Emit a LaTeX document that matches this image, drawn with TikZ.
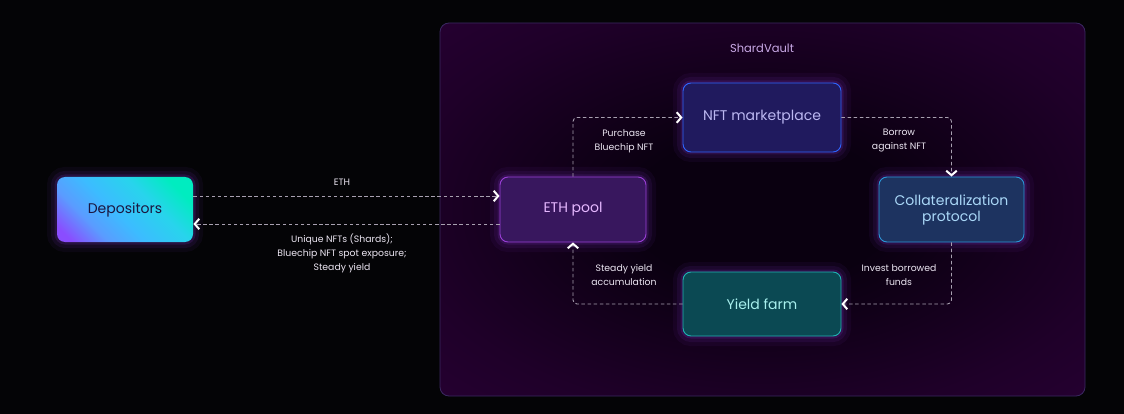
\documentclass[tikz,border=0pt]{standalone}
\usepackage{fontspec}
\setmainfont{Poppins}
\usetikzlibrary{arrows.meta}
\definecolor{pagebg}{HTML}{040406}
\definecolor{vin}{HTML}{0a0010}
\definecolor{vmid}{HTML}{1f0029}
\definecolor{vout}{HTML}{2e003c}
\definecolor{vborder}{HTML}{3a2860}
\definecolor{titlec}{HTML}{c9a9e6}
\definecolor{glowc}{HTML}{a045ff}
\definecolor{dashc}{HTML}{a8a0b0}
\definecolor{lblc}{HTML}{ece6f2}
\definecolor{depT}{HTML}{00ecc0}
\definecolor{depT2}{HTML}{28d4ec}
\definecolor{depM}{HTML}{3cbcff}
\definecolor{depB2}{HTML}{5a9cff}
\definecolor{depB}{HTML}{8a4dff}
\definecolor{deptext}{HTML}{1b1640}
\definecolor{ethfill}{HTML}{38175e}
\definecolor{ethdraw}{HTML}{9a3fd6}
\definecolor{ethtext}{HTML}{e6b8ff}
\definecolor{nftfill}{HTML}{201a5e}
\definecolor{nftdraw}{HTML}{2f66ff}
\definecolor{nfttext}{HTML}{bcb8f2}
\definecolor{colfill}{HTML}{1d3360}
\definecolor{coldraw}{HTML}{2a98d8}
\definecolor{coltext}{HTML}{aad8f8}
\definecolor{yffill}{HTML}{0b4953}
\definecolor{yfdraw}{HTML}{1fb3b3}
\definecolor{yftext}{HTML}{a8f0ee}
\pgfdeclareradialshading{vaultshade}{\pgfpoint{0bp}{0bp}}{color(0bp)=(vin); color(10bp)=(vin); color(28bp)=(vmid); color(48bp)=(vout); color(72bp)=(vout)}
\pgfdeclareverticalshading{depshade}{100bp}{color(0bp)=(depB); color(20bp)=(depB); color(33bp)=(depB2); color(46bp)=(depM); color(62bp)=(depT2); color(76bp)=(depT); color(100bp)=(depT)}
\tikzset{
  box/.style={rectangle, rounded corners=8pt, minimum width=146pt, minimum height=65pt,
    inner sep=2pt, align=center, line width=0.9pt, font=\fontsize{14}{16}\selectfont,
    preaction={draw=glowc, draw opacity=0.05, line width=20pt},
    preaction={draw=glowc, draw opacity=0.08, line width=12pt},
    preaction={draw=glowc, draw opacity=0.13, line width=5pt}},
  flow/.style={draw=dashc, line width=0.9pt, dash pattern=on 3.5pt off 2.6pt, rounded corners=4pt,
    -{Straight Barb[length=4.5pt,width=10.5pt,line width=2pt,color=white]}},
  lbl/.style={font=\fontsize{9.3}{14}\selectfont, text=lblc, align=center, inner sep=0pt},
}
\begin{document}
\begin{tikzpicture}[x=1pt,y=-1pt]
\fill[pagebg] (0,0) rectangle (1124,414);
\useasboundingbox (0,0) rectangle (1124,414);
% container
\path[shading=vaultshade, rounded corners=9pt] (440,23) rectangle (1085,396);
\draw[vborder, line width=0.8pt, rounded corners=9pt] (440,23) rectangle (1085,396);
\node[font=\fontsize{11.5}{13}\selectfont, text=titlec] (title) at (762,48) {ShardVault};
% boxes
\node[box, minimum width=136pt, draw=none, shading=depshade, shading angle=-45, text=deptext] (dep) at (125,209.5) {Depositors};
\node[box, fill=ethfill, draw=ethdraw, text=ethtext] (eth) at (573,209.5) {ETH pool};
\node[box, minimum width=158pt, minimum height=69pt, fill=nftfill, draw=nftdraw, text=nfttext] (nft) at (762,117.5) {NFT marketplace};
\node[box, minimum width=145pt, fill=colfill, draw=coldraw, text=coltext] (col) at (951.5,209.5) {Collateralization\\protocol};
\node[box, minimum width=158pt, minimum height=64pt, fill=yffill, draw=yfdraw, text=yftext] (yf) at (762,304) {Yield farm};
% connectors
\draw[flow] ([yshift=13.5pt]dep.east) -- ([yshift=13.5pt]eth.west);
\draw[flow] ([yshift=-14.5pt]eth.west) -- ([yshift=-14.5pt]dep.east);
\draw[flow] (eth.north) |- (nft.west);
\draw[flow] (nft.east) -| (col.north);
\draw[flow] (col.south) |- (yf.east);
\draw[flow] (yf.west) -| (eth.south);
% labels
\node[lbl] (l1) at (342,182) {ETH};
\node[lbl] (l2) at (342,253) {Unique NFTs (Shards);\\Bluechip NFT spot exposure;\\Steady yield};
\node[lbl] (l3) at (624,141) {Purchase\\Bluechip NFT};
\node[lbl] (l4) at (899,141) {Borrow\\against NFT};
\node[lbl] (l5) at (899,275) {Invest borrowed\\funds};
\node[lbl] (l6) at (624,275) {Steady yield\\accumulation};
\end{tikzpicture}
\end{document}
